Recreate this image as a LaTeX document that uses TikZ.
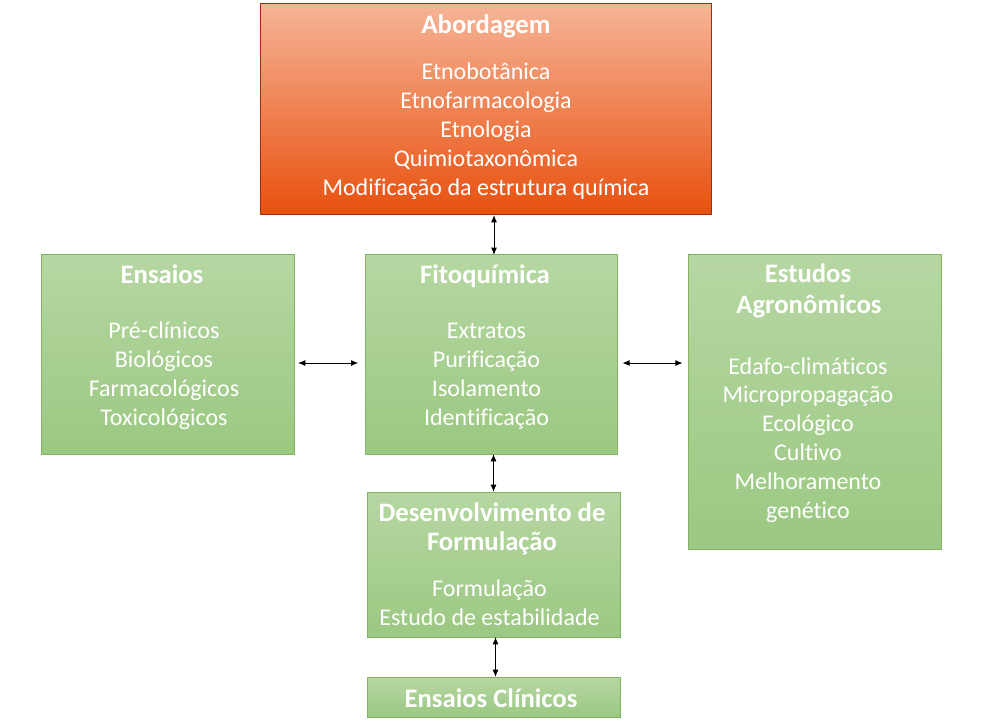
\documentclass[tikz,border=0pt]{standalone}
\usepackage{fontspec}
\setmainfont{Carlito}[Ligatures=NoCommon,RawFeature=-liga]
\usetikzlibrary{arrows.meta}
\definecolor{redtop}{RGB}{246,180,150}
\definecolor{redbot}{RGB}{232,80,14}
\definecolor{redline}{RGB}{160,45,15}
\definecolor{grtop}{RGB}{182,215,162}
\definecolor{grbot}{RGB}{155,200,130}
\definecolor{grline}{RGB}{130,180,100}
\tikzset{
  box/.style={draw, line width=0.75pt, inner sep=0pt, outer sep=0pt},
  redbox/.style={box, draw=redline, top color=redtop, bottom color=redbot},
  greenbox/.style={box, draw=grline, top color=grtop, bottom color=grbot},
  txt/.style={text=white, anchor=base, inner sep=0pt, font=\fontsize{18}{21.75}\selectfont},
  ttl/.style={txt, font=\fontsize{20}{24}\selectfont\bfseries},
  dbl/.style={{Latex[length=5.5pt,width=4.5pt]}-{Latex[length=5.5pt,width=4.5pt]}, line width=0.75pt, black}
}
\begin{document}
\begin{tikzpicture}[x=0.75pt,y=-0.75pt]
\useasboundingbox (0,0) rectangle (985,720);
% boxes
\node[redbox, minimum width=338.25pt, minimum height=158.25pt] (abord) at (485.5,109.5) {};
\node[greenbox, minimum width=189.75pt, minimum height=149.25pt] (ensaios) at (167.5,354.5) {};
\node[greenbox, minimum width=189pt, minimum height=149.25pt] (fito) at (491,354.5) {};
\node[greenbox, minimum width=189.75pt, minimum height=220.5pt] (agro) at (814.5,402) {};
\node[greenbox, minimum width=189.75pt, minimum height=108.75pt] (desenv) at (493.5,564.5) {};
\node[greenbox, minimum width=189.75pt, minimum height=30pt] (clin) at (493.5,697) {};
% texts
\node[ttl] (abT) at (486,34) {Abordagem};
\foreach \t [count=\i] in {Etnobotânica,Etnofarmacologia,Etnologia,Quimiotaxonômica,Modificação da estrutura química}
  \node[txt] (ab\i) at (486,{80+29*(\i-1)}) {\t};
\node[ttl] (enT) at (162,284) {Ensaios};
\foreach \t [count=\i] in {Pré-clínicos,Biológicos,Farmacológicos,Toxicológicos}
  \node[txt] (en\i) at (164,{338+29*(\i-1)}) {\t};
\node[ttl] (fiT) at (485,284) {Fitoquímica};
\foreach \t [count=\i] in {Extratos,Purificação,Isolamento,Identificação}
  \node[txt] (fi\i) at (486.5,{338+29*(\i-1)}) {\t};
\node[ttl] (agT1) at (808,283) {Estudos};
\node[ttl] (agT2) at (809,314) {Agronômicos};
\foreach \t [count=\i] in {Edafo-climáticos,Micropropagação,Ecológico,Cultivo,Melhoramento,genético}
  \node[txt] (ag\i) at (808,{374+28.8*(\i-1)}) {\t};
\node[ttl] (deT1) at (492,521) {Desenvolvimento de};
\node[ttl] (deT2) at (492,550) {Formulação};
\node[txt] (de1) at (489.5,596) {Formulação};
\node[txt] (de2) at (489.5,625) {Estudo de estabilidade};
\node[ttl] (clT) at (491,707) {Ensaios Clínicos};
% connectors
\draw[dbl] ([xshift=2.25pt]abord.south -| fito.north) -- ([xshift=2.25pt]fito.north);
\draw[dbl, shorten <=3pt, shorten >=5pt] ([yshift=-6.4pt]ensaios.east) -- ([yshift=-6.4pt]fito.west);
\draw[dbl, shorten <=4pt, shorten >=4pt] ([yshift=-6.4pt]fito.east) -- ([yshift=-6.4pt]fito.east -| agro.west);
\draw[dbl] (fito.south -| desenv.north) -- (desenv.north);
\draw[dbl] ([xshift=1.5pt]desenv.south) -- ([xshift=1.5pt]clin.north);
\end{tikzpicture}
\end{document}
